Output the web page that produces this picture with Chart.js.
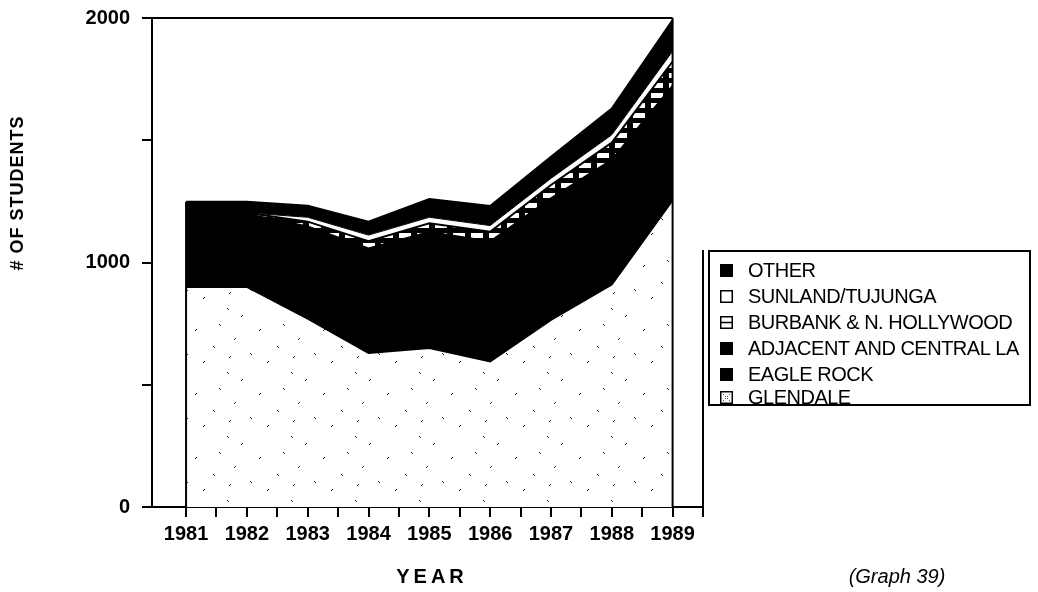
<!DOCTYPE html>
<html>
<head>
<meta charset="utf-8">
<script src="https://cdn.jsdelivr.net/npm/chart.js@4"></script>
<style>
  html, body { margin: 0; padding: 0; background: #fff; }
  #wrap { position: relative; width: 1038px; height: 592px; }
</style>
</head>
<body>
<div id="wrap"><canvas id="chart" width="1038" height="592"></canvas></div>
<script>
    // data (students per year, stacked bottom to top)
    const years = [1981, 1982, 1983, 1984, 1985, 1986, 1987, 1988, 1989];
    const glendale   = [900, 900, 770, 630, 650, 595, 765, 910, 1255];
    const eagleRock  = [120, 120, 130, 140, 150, 150, 160, 170, 180];
    const adjacentLA = [178, 178, 247, 287, 325, 341, 337, 340, 287];
    const burbank    = [5, 5, 20, 30, 35, 40, 55, 70, 100];
    const sunland    = [0, 0, 18, 25, 25, 25, 27, 32, 42];
    const other      = [45, 45, 47, 55, 75, 80, 88, 108, 128];

    const seriesNames = ['GLENDALE', 'EAGLE ROCK', 'ADJACENT AND CENTRAL LA',
                         'BURBANK & N. HOLLYWOOD', 'SUNLAND/TUJUNGA', 'OTHER'];
    const yTickValues = [0, 500, 1000, 1500, 2000];
    const yTickLabels = ['0', '', '1000', '', '2000'];

    const FONT = 'Arial, "Liberation Sans", Helvetica, sans-serif';

    // sparse speckle fill (glendale)
    function speckle() {
        const c = document.createElement('canvas');
        c.width = 64; c.height = 64;
        const g = c.getContext('2d');
        g.fillStyle = '#fff';
        g.fillRect(0, 0, 64, 64);
        g.strokeStyle = '#222';
        g.lineWidth = 1;
        const marks = [[5, 9], [27, 4], [44, 18], [58, 33], [13, 41], [35, 52], [51, 59], [21, 26], [39, 36]];
        marks.forEach(([x, y], i) => {
            g.beginPath();
            g.moveTo(x, y);
            g.lineTo(x + (i % 2 ? 2 : -2), y + 2);
            g.stroke();
        });
        return g.createPattern(c, 'repeat');
    }

    // black with white dashes (burbank)
    function dashes() {
        const c = document.createElement('canvas');
        c.width = 18; c.height = 10;
        const g = c.getContext('2d');
        g.fillStyle = '#000';
        g.fillRect(0, 0, 18, 10);
        g.fillStyle = '#fff';
        g.fillRect(3, 3, 12, 5);
        return g.createPattern(c, 'repeat');
    }

    const fills = [speckle(), '#000', '#000', dashes(), '#fff', '#000'];
    const series = [glendale, eagleRock, adjacentLA, burbank, sunland, other];

    const datasets = series.map((vals, i) => ({
        label: seriesNames[i],
        data: years.map((yr, k) => ({ x: yr, y: vals[k] })),
        backgroundColor: fills[i],
        borderColor: '#000',
        borderWidth: fills[i] === '#fff' ? 1 : 2,
        pointRadius: 0,
        tension: 0,
        fill: i === 0 ? 'origin' : '-1'
    }));

    // frame lines, axis titles, legend box
    const extras = {
        id: 'extras',
        afterDraw(chart) {
            const ctx = chart.ctx;
            const a = chart.chartArea;
            const xs = chart.scales.x;
            const x81 = xs.getPixelForValue(years[0]);
            const x89 = xs.getPixelForValue(years[years.length - 1]);
            const topMeta = chart.getDatasetMeta(series.length - 1);
            ctx.save();
            ctx.strokeStyle = '#000';
            ctx.lineWidth = 2;
            ctx.beginPath();
            ctx.moveTo(a.left, a.top); ctx.lineTo(x89, a.top);
            ctx.moveTo(x89, a.top); ctx.lineTo(x89, a.bottom);
            ctx.moveTo(x81, a.bottom); ctx.lineTo(x81, topMeta.data[0].y);
            ctx.moveTo(a.right, 250); ctx.lineTo(a.right, a.bottom);
            ctx.stroke();

            ctx.fillStyle = '#000';
            ctx.textAlign = 'center';
            ctx.textBaseline = 'middle';

            // y title
            ctx.save();
            ctx.translate(18, 193);
            ctx.rotate(-Math.PI / 2);
            ctx.font = 'bold 18px ' + FONT;
            ctx.letterSpacing = '1px';
            ctx.fillText('# OF STUDENTS', 0, 0);
            ctx.restore();

            // x title
            ctx.font = 'bold 20px ' + FONT;
            ctx.letterSpacing = '4px';
            ctx.fillText('YEAR', 432, 577);
            ctx.letterSpacing = '0px';

            ctx.font = 'italic 20px ' + FONT;
            ctx.fillText('(Graph 39)', 897, 577);

            // legend
            ctx.lineWidth = 2;
            ctx.strokeRect(709, 251, 321, 154);
            const rowY = [271, 297, 323, 349, 375, 398];
            ctx.textAlign = 'left';
            ctx.font = '20px ' + FONT;
            ctx.letterSpacing = '-0.5px';
            for (let r = 0; r < series.length; r++) {
                const i = series.length - 1 - r;
                const y = rowY[r];
                const sx = 720, sy = y - 7, s = 13;
                ctx.lineWidth = 1.5;
                if (fills[i] === '#000') {
                    ctx.fillStyle = '#000';
                    ctx.fillRect(sx, sy, s, s);
                } else {
                    ctx.fillStyle = '#fff';
                    ctx.fillRect(sx, sy, s, s);
                    ctx.strokeRect(sx + 0.75, sy + 0.75, s - 1.5, s - 1.5);
                    ctx.beginPath();
                    if (i === 3) {
                        ctx.moveTo(sx, sy + s / 2); ctx.lineTo(sx + s, sy + s / 2);
                    } else if (i === 0) {
                        ctx.lineWidth = 1;
                        ctx.setLineDash([1, 2]);
                        ctx.moveTo(sx + 3, sy + 3); ctx.lineTo(sx + s - 3, sy + s - 3);
                        ctx.moveTo(sx + s - 3, sy + 3); ctx.lineTo(sx + 3, sy + s - 3);
                    }
                    ctx.stroke();
                    ctx.setLineDash([]);
                }
                ctx.fillStyle = '#000';
                ctx.fillText(seriesNames[i], 748, y);
            }
            ctx.restore();
        }
    };

    const xTickValues = [];
    years.forEach(yr => { xTickValues.push(yr); xTickValues.push(yr + 0.5); });

    new Chart(document.getElementById('chart').getContext('2d'), {
        type: 'line',
        data: { datasets: datasets },
        options: {
            responsive: false,
            animation: false,
            layout: { padding: { left: 0, top: 18, right: 335, bottom: 0 } },
            plugins: { legend: { display: false }, tooltip: { enabled: false } },
            scales: {
                x: {
                    type: 'linear',
                    min: 1980.44,
                    max: 1989.5,
                    afterBuildTicks: s => { s.ticks = xTickValues.map(v => ({ value: v })); },
                    afterFit: s => { s.height = 85; },
                    ticks: {
                        autoSkip: false,
                        maxRotation: 0,
                        padding: 5,
                        color: '#000',
                        font: { family: FONT, size: 20, weight: 'bold' },
                        callback: v => Number.isInteger(v) ? String(v) : ''
                    },
                    grid: { drawOnChartArea: false, tickLength: 10, color: '#000', lineWidth: 2 },
                    border: { color: '#000', width: 2 }
                },
                y: {
                    stacked: true,
                    min: 0,
                    max: 2000,
                    afterBuildTicks: s => { s.ticks = yTickValues.map(v => ({ value: v })); },
                    afterFit: s => { s.width = 152; },
                    ticks: {
                        padding: 12,
                        color: '#000',
                        font: { family: FONT, size: 20, weight: 'bold', lineHeight: 0.6 },
                        callback: (v, idx) => yTickLabels[idx]
                    },
                    grid: { drawOnChartArea: false, tickLength: 10, color: '#000', lineWidth: 2 },
                    border: { color: '#000', width: 2 }
                }
            }
        },
        plugins: [extras]
    });
</script>
</body>
</html>
